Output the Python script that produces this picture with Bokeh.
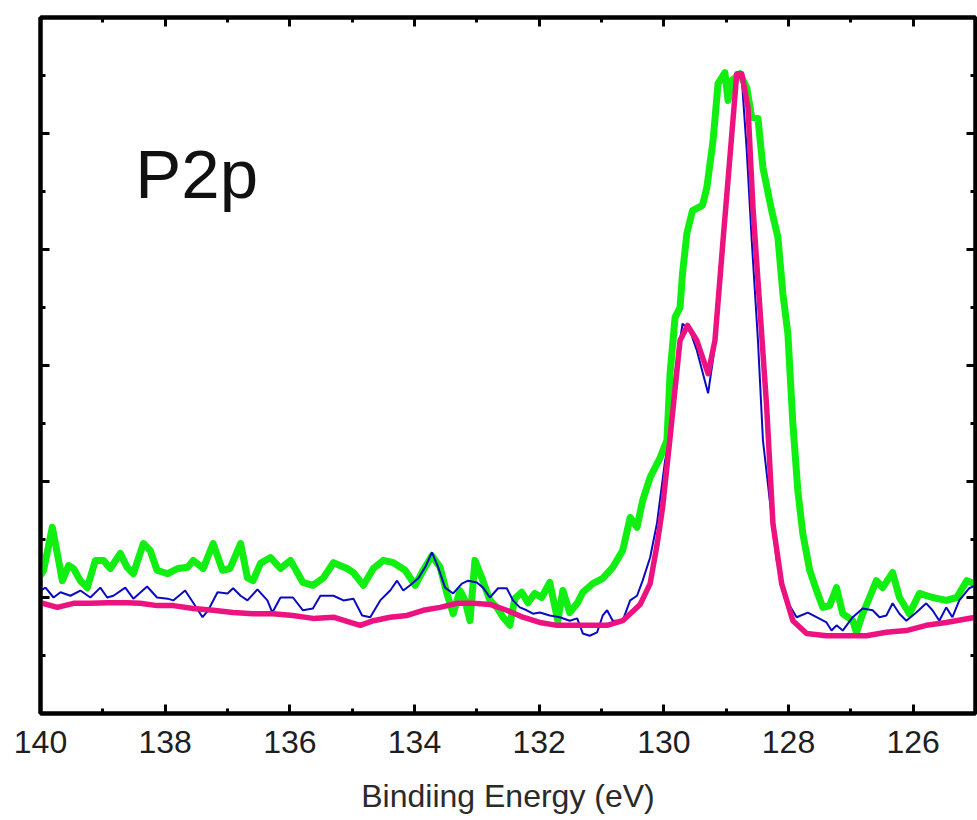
from bokeh.plotting import figure
from bokeh.models import Range1d, LinearAxis, SingleIntervalTicker, Label
from bokeh.embed import file_html
from bokeh.resources import INLINE

# Binding energy (eV) and intensity (a.u.)
green_energy = [140.00, 139.95, 139.81, 139.71, 139.65, 139.55, 139.47, 139.36, 139.25, 139.12,
                138.99, 138.88, 138.72, 138.61, 138.51, 138.35, 138.24, 138.13, 137.96, 137.80,
                137.64, 137.55, 137.39, 137.23, 137.08, 136.96, 136.79, 136.68, 136.59, 136.47,
                136.31, 136.15, 135.99, 135.79, 135.63, 135.46, 135.30, 135.08, 134.98, 134.82,
                134.66, 134.50, 134.34, 134.15, 133.99, 133.86, 133.72, 133.59, 133.48, 133.38,
                133.27, 133.19, 133.11, 133.03, 132.92, 132.79, 132.68, 132.58, 132.47, 132.39,
                132.28, 132.18, 132.07, 131.96, 131.83, 131.70, 131.62, 131.51, 131.39, 131.30,
                131.14, 130.98, 130.82, 130.66, 130.54, 130.43, 130.34, 130.22, 130.06, 129.95,
                129.90, 129.82, 129.74, 129.70, 129.63, 129.54, 129.38, 129.31, 129.21, 129.13,
                129.02, 128.97, 128.91, 128.78, 128.67, 128.59, 128.49, 128.41, 128.27, 128.17,
                128.09, 128.01, 127.93, 127.85, 127.77, 127.66, 127.55, 127.45, 127.34, 127.23,
                127.13, 126.97, 126.91, 126.81, 126.70, 126.59, 126.49, 126.33, 126.22, 126.06,
                125.90, 125.69, 125.47, 125.30, 125.14, 125.02]
green_intensity = [2.38, 2.47, 3.21, 2.64, 2.29, 2.55, 2.50, 2.29, 2.17, 2.64,
                   2.64, 2.50, 2.76, 2.52, 2.41, 2.93, 2.81, 2.47, 2.41, 2.50,
                   2.52, 2.64, 2.50, 2.93, 2.47, 2.50, 2.93, 2.34, 2.29, 2.59,
                   2.69, 2.50, 2.64, 2.26, 2.21, 2.34, 2.60, 2.50, 2.43, 2.21,
                   2.50, 2.64, 2.60, 2.47, 2.21, 2.47, 2.72, 2.52, 2.07, 1.72,
                   2.12, 1.95, 1.60, 2.64, 2.34, 1.95, 1.83, 1.66, 1.52, 1.98,
                   2.09, 1.91, 2.07, 2.00, 2.26, 1.60, 2.12, 1.74, 1.90, 2.09,
                   2.24, 2.33, 2.52, 2.81, 3.38, 3.21, 3.67, 4.07, 4.41, 4.71,
                   5.86, 6.83, 7.00, 7.59, 8.28, 8.67, 8.76, 9.07, 9.88, 10.86,
                   11.05, 10.57, 10.91, 11.03, 10.79, 10.28, 10.26, 9.41, 8.67, 8.21,
                   7.24, 6.55, 5.00, 3.84, 3.10, 2.47, 2.12, 1.83, 1.86, 2.17,
                   1.72, 1.60, 1.40, 1.72, 2.00, 2.29, 2.17, 2.43, 2.00, 1.72,
                   2.07, 2.00, 1.95, 2.00, 2.29, 2.24]

blue_energy = [140.00, 139.92, 139.79, 139.68, 139.52, 139.36, 139.20, 139.04, 138.93, 138.83,
               138.64, 138.51, 138.29, 138.13, 137.96, 137.87, 137.68, 137.55, 137.40, 137.31,
               137.16, 137.00, 136.91, 136.79, 136.68, 136.52, 136.36, 136.28, 136.15, 135.95,
               135.79, 135.63, 135.51, 135.30, 135.14, 134.98, 134.84, 134.71, 134.55, 134.39,
               134.28, 134.18, 134.07, 133.94, 133.83, 133.72, 133.62, 133.51, 133.38, 133.24,
               133.14, 133.00, 132.90, 132.79, 132.66, 132.52, 132.42, 132.31, 132.20, 132.10,
               131.99, 131.83, 131.67, 131.51, 131.39, 131.30, 131.19, 131.07, 130.98, 130.91,
               130.82, 130.66, 130.54, 130.43, 130.34, 130.22, 130.11, 129.98, 129.90, 129.82,
               129.70, 129.58, 129.47, 129.29, 129.18, 129.05, 128.94, 128.83, 128.75, 128.67,
               128.59, 128.49, 128.41, 128.30, 128.19, 128.03, 127.87, 127.69, 127.55, 127.39,
               127.31, 127.23, 127.13, 126.97, 126.81, 126.65, 126.54, 126.43, 126.33, 126.22,
               126.11, 125.95, 125.79, 125.69, 125.58, 125.47, 125.37, 125.26, 125.10, 125.00]
blue_intensity = [2.12, 2.17, 2.00, 2.09, 2.03, 2.12, 2.00, 2.17, 2.00, 2.03,
                  2.17, 1.98, 2.19, 2.00, 1.98, 1.95, 2.12, 1.91, 1.66, 1.78,
                  2.09, 2.07, 2.16, 2.03, 1.95, 2.14, 1.95, 1.74, 2.00, 2.00,
                  1.78, 1.81, 2.03, 2.03, 1.95, 1.98, 1.69, 1.66, 1.95, 2.12,
                  2.29, 2.12, 2.21, 2.33, 2.52, 2.78, 2.52, 2.17, 2.07, 2.24,
                  2.29, 2.26, 2.17, 2.00, 2.16, 2.16, 1.95, 1.83, 1.78, 1.72,
                  1.74, 1.69, 1.66, 1.60, 1.64, 1.38, 1.34, 1.40, 1.69, 1.78,
                  1.60, 1.60, 1.95, 2.03, 2.29, 2.69, 3.28, 4.36, 4.76, 5.86,
                  6.72, 6.60, 6.26, 5.52, 6.34, 8.07, 9.59, 11.00, 10.95, 9.71,
                  8.16, 6.43, 4.71, 3.67, 2.64, 1.95, 1.66, 1.74, 1.66, 1.57,
                  1.43, 1.52, 1.43, 1.66, 1.81, 1.78, 1.66, 1.69, 1.90, 1.72,
                  1.60, 1.74, 1.90, 1.78, 1.60, 1.83, 1.66, 1.95, 2.16, 2.21]

pink_energy = [140.00, 139.73, 139.47, 139.20, 138.93, 138.61, 138.40, 138.13, 137.87, 137.55,
               137.23, 136.91, 136.59, 136.27, 135.95, 135.63, 135.30, 135.03, 134.87, 134.66,
               134.39, 134.12, 133.86, 133.59, 133.32, 133.06, 132.79, 132.52, 132.26, 131.99,
               131.71, 131.46, 131.19, 130.91, 130.66, 130.38, 130.22, 130.11, 130.02, 129.90,
               129.74, 129.62, 129.47, 129.29, 129.18, 129.05, 128.94, 128.83, 128.75, 128.65,
               128.57, 128.46, 128.35, 128.25, 128.11, 127.93, 127.71, 127.39, 127.07, 126.75,
               126.43, 126.11, 125.79, 125.47, 125.00]
pink_intensity = [1.91, 1.83, 1.90, 1.90, 1.91, 1.91, 1.90, 1.86, 1.86, 1.81,
                  1.78, 1.74, 1.72, 1.72, 1.69, 1.64, 1.66, 1.57, 1.52, 1.60,
                  1.66, 1.69, 1.78, 1.83, 1.90, 1.90, 1.88, 1.78, 1.66, 1.57,
                  1.52, 1.52, 1.52, 1.52, 1.60, 1.88, 2.24, 2.90, 3.55, 4.76,
                  6.43, 6.69, 6.43, 5.86, 6.43, 8.16, 9.59, 11.03, 11.03, 10.45,
                  8.72, 7.00, 5.28, 3.28, 2.24, 1.60, 1.38, 1.34, 1.34, 1.34,
                  1.40, 1.43, 1.52, 1.57, 1.66]

x_title = "Bindiing Energy (eV)"
panel_label = "P2p"
FONT = "Liberation Sans"

p = figure(width=977, height=820, output_backend="svg", toolbar_location=None,
           x_range=Range1d(140, 125), y_range=Range1d(0, 12),
           min_border_left=40, min_border_right=2, min_border_top=17, min_border_bottom=107,
           background_fill_color="white", border_fill_color="white")
p.grid.visible = False
p.outline_line_color = "black"
p.outline_line_width = 4


def style(ax, labels):
    ax.axis_line_width = 4
    ax.axis_line_color = "black"
    ax.major_tick_in = 9
    ax.major_tick_out = 0
    ax.minor_tick_in = 5
    ax.minor_tick_out = 0
    ax.major_tick_line_width = 3
    ax.minor_tick_line_width = 3
    ax.major_tick_line_color = "black"
    ax.minor_tick_line_color = "black"
    if not labels:
        ax.major_label_text_color = None
        ax.major_label_text_font_size = "1px"
        ax.major_label_standoff = 0


p.xaxis.ticker = SingleIntervalTicker(interval=2, num_minor_ticks=2)
p.yaxis.ticker = SingleIntervalTicker(interval=2, num_minor_ticks=2)
style(p.xaxis[0], True)
style(p.yaxis[0], False)
p.xaxis.major_label_text_font = FONT
p.xaxis.major_label_text_font_size = "32px"
p.xaxis.major_label_text_color = "#1e1e1e"
p.xaxis.major_label_standoff = 17
p.xaxis.axis_label = x_title
p.xaxis.axis_label_text_font = FONT
p.xaxis.axis_label_text_font_size = "32px"
p.xaxis.axis_label_text_font_style = "normal"
p.xaxis.axis_label_text_color = "#2a2a2a"
p.xaxis.axis_label_standoff = 22

top = LinearAxis(ticker=SingleIntervalTicker(interval=2, num_minor_ticks=2))
style(top, False)
p.add_layout(top, "above")
right = LinearAxis(ticker=SingleIntervalTicker(interval=2, num_minor_ticks=2))
style(right, False)
p.add_layout(right, "right")

p.line(green_energy, green_intensity, line_color="#11ee11", line_width=7, line_join="round")
p.line(blue_energy, blue_intensity, line_color="#0a0ac0", line_width=2)
p.line(pink_energy, pink_intensity, line_color="#ec1380", line_width=5.5, line_join="round")

p.add_layout(Label(x=138.48, y=9.29, text=panel_label, text_font=FONT,
                   text_font_size="69px", text_color="#111111",
                   text_baseline="alphabetic", text_align="left"))

open("out.html", "w").write(file_html(p, INLINE))
